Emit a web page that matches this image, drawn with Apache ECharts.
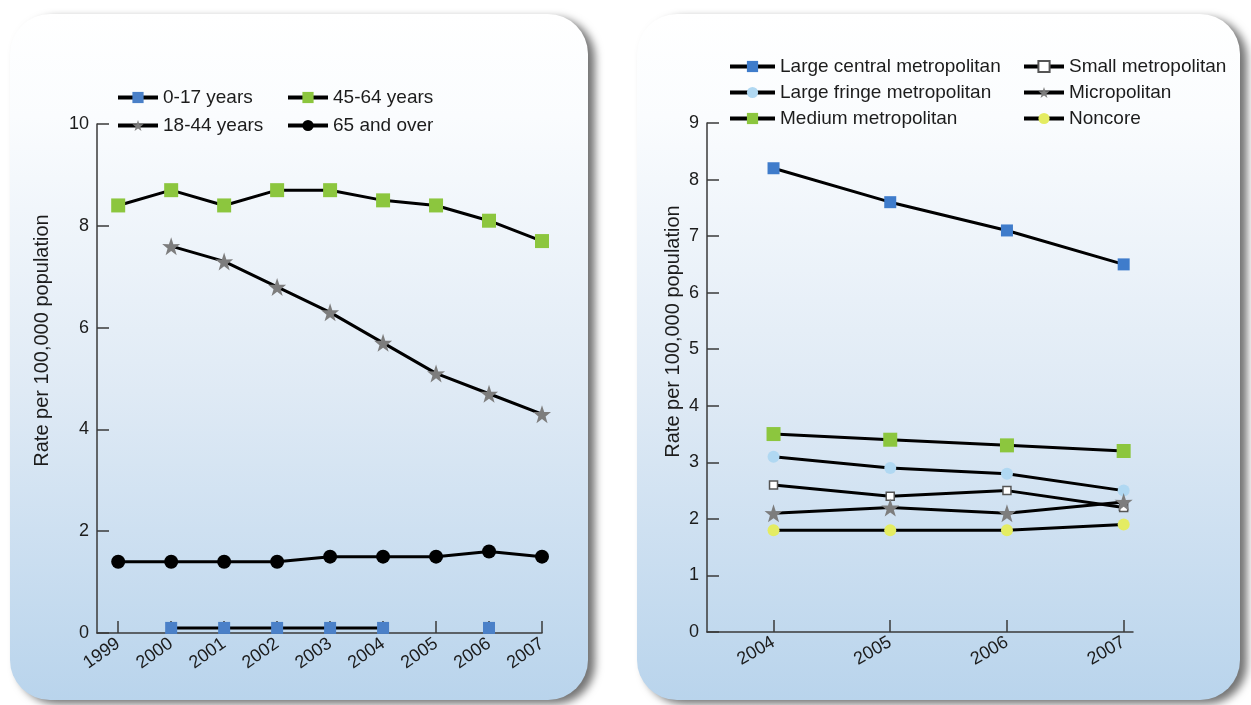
<!DOCTYPE html>
<html>
<head>
<meta charset="utf-8">
<script src="https://cdn.jsdelivr.net/npm/echarts@6/dist/echarts.min.js"></script>
<style>
  html, body { margin: 0; padding: 0; background: #ffffff; }
  #chart { width: 1251px; height: 705px; }
</style>
</head>
<body>
<div id="chart"></div>
<script>
// ---------- Left chart data (by age) ----------
const ageYears = [1999, 2000, 2001, 2002, 2003, 2004, 2005, 2006, 2007];
const age0to17  = [null, 0.1, 0.1, 0.1, 0.1, 0.1, null, 0.1, null];
const age18to44 = [null, 7.6, 7.3, 6.8, 6.3, 5.7, 5.1, 4.7, 4.3];
const age45to64 = [8.4, 8.7, 8.4, 8.7, 8.7, 8.5, 8.4, 8.1, 7.7];
const age65plus = [1.4, 1.4, 1.4, 1.4, 1.5, 1.5, 1.5, 1.6, 1.5];

// ---------- Right chart data (by urbanization) ----------
const urbYears = [2004, 2005, 2006, 2007];
const largeCentral = [8.2, 7.6, 7.1, 6.5];
const largeFringe  = [3.1, 2.9, 2.8, 2.5];
const mediumMetro  = [3.5, 3.4, 3.3, 3.2];
const smallMetro   = [2.6, 2.4, 2.5, 2.2];
const micropolitan = [2.1, 2.2, 2.1, 2.3];
const noncore      = [1.8, 1.8, 1.8, 1.9];

const yAxisTitle = 'Rate per 100,000 population';

function pairs(xs, ys) { return xs.map((x, i) => [x, ys[i]]); }

const FONT = '"Liberation Sans", Arial, Helvetica, sans-serif';
const TXT = '#1c1c1c';
const AXC = '#3a3a3a';
const STAR = 'path://M50,0 L61.8,35.1 L97.6,34.5 L69,56.9 L79.4,90.5 L50,70 L20.6,90.5 L31,56.9 L2.4,34.5 L38.2,35.1 Z';

const chart = echarts.init(document.getElementById('chart'), null, { renderer: 'canvas' });

const panelFill = new echarts.graphic.LinearGradient(0, 0, 0, 1, [
  { offset: 0, color: '#ffffff' },
  { offset: 0.15, color: '#fafcfe' },
  { offset: 0.55, color: '#dfeaf5' },
  { offset: 1, color: '#b9d4ec' }
]);

function panel(x, w) {
  return {
    type: 'rect', z: -10, silent: true,
    shape: { x: x, y: 14, width: w, height: 686, r: 40 },
    style: {
      fill: panelFill,
      shadowBlur: 8, shadowOffsetX: 7, shadowOffsetY: 4,
      shadowColor: 'rgba(0,0,0,0.55)'
    }
  };
}

function xAxisCfg(gridIndex, min, max, years, rotate) {
  return {
    type: 'value', gridIndex: gridIndex, min: min, max: max,
    splitLine: { show: false },
    axisLine: { show: true, onZero: false, lineStyle: { color: AXC, width: 1.5 } },
    axisTick: { show: true, inside: true, length: 12, customValues: years, lineStyle: { color: AXC, width: 1.5 } },
    axisLabel: {
      customValues: years, rotate: rotate, margin: 9,
      color: TXT, fontSize: 18, fontFamily: FONT,
      formatter: v => String(v)
    }
  };
}

function yAxisCfg(gridIndex, max, interval, nameGap, pad) {
  return {
    type: 'value', gridIndex: gridIndex, min: 0, max: max, interval: interval,
    name: yAxisTitle, nameLocation: 'middle', nameGap: nameGap,
    nameTextStyle: { color: TXT, fontSize: 20, fontFamily: FONT, padding: pad },
    splitLine: { show: false },
    axisLine: { show: true, lineStyle: { color: AXC, width: 1.5 } },
    axisTick: { show: true, inside: true, length: 12, lineStyle: { color: AXC, width: 1.5 } },
    axisLabel: { color: TXT, fontSize: 18, fontFamily: FONT, margin: 8 }
  };
}

function lineSeries(name, xi, xs, ys, symbol, size, color, border) {
  return {
    name: name, type: 'line', xAxisIndex: xi, yAxisIndex: xi,
    data: pairs(xs, ys),
    symbol: symbol, symbolSize: size, showSymbol: true, showAllSymbol: true,
    connectNulls: false,
    lineStyle: { color: '#000000', width: 3 },
    itemStyle: border ? { color: color, borderColor: border, borderWidth: 1.5, opacity: 1 }
                      : { color: color, opacity: 1 },
    emphasis: { disabled: true },
    z: 3
  };
}

const legendBase = {
  orient: 'vertical', itemHeight: 14,
  textStyle: { color: TXT, fontSize: 19, fontFamily: FONT },
  lineStyle: { width: 4 },
  selectedMode: false
};

const option = {
  animation: false,
  backgroundColor: '#ffffff',
  graphic: [panel(10, 578), panel(637, 603)],
  grid: [
    { left: 97, top: 124, width: 445, height: 509 },
    { left: 707, top: 123, width: 426, height: 509 }
  ],
  xAxis: [
    xAxisCfg(0, 1998.6, 2007, ageYears, 35),
    xAxisCfg(1, 2003.43, 2007.08, urbYears, 30)
  ],
  yAxis: [
    yAxisCfg(0, 10, 2, 45, [0, 0, 0, 76]),
    yAxisCfg(1, 9, 1, 24, [0, 0, 0, 92])
  ],
  legend: [
    Object.assign({}, legendBase, { left: 111, top: 83, itemWidth: 40, itemGap: 9, data: ['0-17 years', '18-44 years'] }),
    Object.assign({}, legendBase, { left: 281, top: 83, itemWidth: 40, itemGap: 9, data: ['45-64 years', '65 and over'] }),
    Object.assign({}, legendBase, { left: 723, top: 52, itemWidth: 45, itemGap: 7, data: ['Large central metropolitan', 'Large fringe metropolitan', 'Medium metropolitan'] }),
    Object.assign({}, legendBase, { left: 1017, top: 52, itemWidth: 40, itemGap: 7, data: ['Small metropolitan', 'Micropolitan', 'Noncore'] })
  ],
  series: [
    lineSeries('0-17 years', 0, ageYears, age0to17, 'rect', 12, '#4a80c8'),
    lineSeries('18-44 years', 0, ageYears, age18to44, STAR, 18, '#7d7d7d'),
    lineSeries('45-64 years', 0, ageYears, age45to64, 'rect', 14, '#8cc63e'),
    lineSeries('65 and over', 0, ageYears, age65plus, 'circle', 14, '#000000'),

    lineSeries('Large central metropolitan', 1, urbYears, largeCentral, 'rect', 12, '#3f7ccb'),
    lineSeries('Large fringe metropolitan', 1, urbYears, largeFringe, 'circle', 12, '#b0d8f2'),
    lineSeries('Medium metropolitan', 1, urbYears, mediumMetro, 'rect', 14, '#8cc63e'),
    lineSeries('Small metropolitan', 1, urbYears, smallMetro, 'rect', 8, '#ffffff', '#555555'),
    lineSeries('Micropolitan', 1, urbYears, micropolitan, STAR, 18, '#7d7d7d'),
    lineSeries('Noncore', 1, urbYears, noncore, 'circle', 12, '#e4ec62')
  ]
};

chart.setOption(option);
</script>
</body>
</html>
